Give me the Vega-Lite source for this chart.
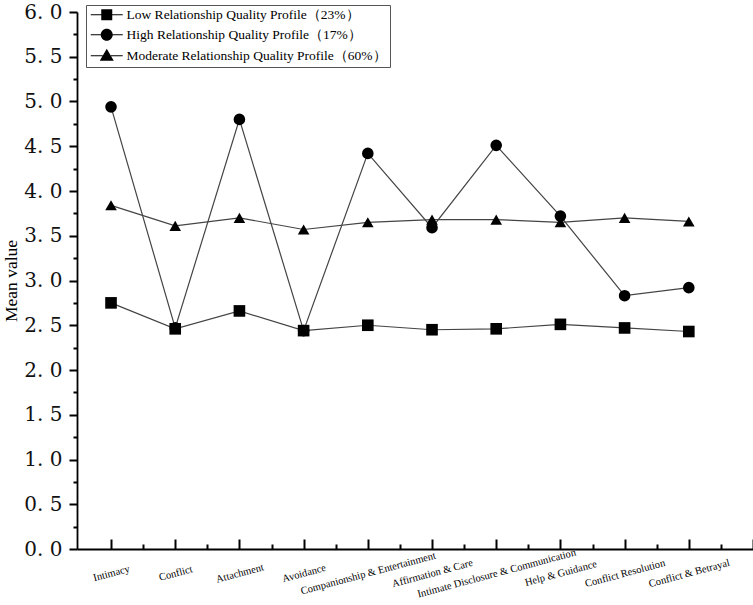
{
  "$schema": "https://vega.github.io/schema/vega-lite/v6.json",
  "width": 676,
  "height": 537,
  "autosize": "none",
  "padding": {"left": 77, "top": 12, "right": 0, "bottom": 56},
  "background": "white",
  "config": {"view": {"stroke": null}, "font": "Liberation Serif"},
  "data": {"values": [
    {"dimension": "Intimacy", "order": 1, "profile": "Low", "mean": 2.75},
    {"dimension": "Intimacy", "order": 1, "profile": "High", "mean": 4.94},
    {"dimension": "Intimacy", "order": 1, "profile": "Moderate", "mean": 3.84},
    {"dimension": "Conflict", "order": 2, "profile": "Low", "mean": 2.46},
    {"dimension": "Conflict", "order": 2, "profile": "High", "mean": 2.47},
    {"dimension": "Conflict", "order": 2, "profile": "Moderate", "mean": 3.61},
    {"dimension": "Attachment", "order": 3, "profile": "Low", "mean": 2.66},
    {"dimension": "Attachment", "order": 3, "profile": "High", "mean": 4.80},
    {"dimension": "Attachment", "order": 3, "profile": "Moderate", "mean": 3.70},
    {"dimension": "Avoidance", "order": 4, "profile": "Low", "mean": 2.44},
    {"dimension": "Avoidance", "order": 4, "profile": "High", "mean": 2.44},
    {"dimension": "Avoidance", "order": 4, "profile": "Moderate", "mean": 3.57},
    {"dimension": "Companionship & Entertainment", "order": 5, "profile": "Low", "mean": 2.50},
    {"dimension": "Companionship & Entertainment", "order": 5, "profile": "High", "mean": 4.42},
    {"dimension": "Companionship & Entertainment", "order": 5, "profile": "Moderate", "mean": 3.65},
    {"dimension": "Affirmation & Care", "order": 6, "profile": "Low", "mean": 2.45},
    {"dimension": "Affirmation & Care", "order": 6, "profile": "High", "mean": 3.59},
    {"dimension": "Affirmation & Care", "order": 6, "profile": "Moderate", "mean": 3.68},
    {"dimension": "Intimate Disclosure & Communication", "order": 7, "profile": "Low", "mean": 2.46},
    {"dimension": "Intimate Disclosure & Communication", "order": 7, "profile": "High", "mean": 4.51},
    {"dimension": "Intimate Disclosure & Communication", "order": 7, "profile": "Moderate", "mean": 3.68},
    {"dimension": "Help & Guidance", "order": 8, "profile": "Low", "mean": 2.51},
    {"dimension": "Help & Guidance", "order": 8, "profile": "High", "mean": 3.72},
    {"dimension": "Help & Guidance", "order": 8, "profile": "Moderate", "mean": 3.65},
    {"dimension": "Conflict Resolution", "order": 9, "profile": "Low", "mean": 2.47},
    {"dimension": "Conflict Resolution", "order": 9, "profile": "High", "mean": 2.83},
    {"dimension": "Conflict Resolution", "order": 9, "profile": "Moderate", "mean": 3.70},
    {"dimension": "Conflict & Betrayal", "order": 10, "profile": "Low", "mean": 2.43},
    {"dimension": "Conflict & Betrayal", "order": 10, "profile": "High", "mean": 2.92},
    {"dimension": "Conflict & Betrayal", "order": 10, "profile": "Moderate", "mean": 3.66}
  ]},
  "layer": [
    {
      "mark": {"type": "line", "color": "#444444", "strokeWidth": 1.2},
      "encoding": {
        "x": {"field": "order", "type": "quantitative",
          "scale": {"domain": [0.47, 11], "nice": false, "zero": false},
          "axis": {"orient": "bottom", "values": [1.5, 2.5, 3.5, 4.5, 5.5, 6.5, 7.5, 8.5, 9.5, 10.5],
            "labels": false, "domain": false, "grid": false, "title": null,
            "tickSize": -5, "tickWidth": 2, "tickColor": "black"}},
        "y": {"field": "mean", "type": "quantitative",
          "scale": {"domain": [0, 6], "nice": false},
          "axis": {"orient": "left", "values": [0.25, 0.75, 1.25, 1.75, 2.25, 2.75, 3.25, 3.75, 4.25, 4.75, 5.25, 5.75],
            "labels": false, "domain": false, "grid": false, "title": null,
            "tickSize": 4, "tickWidth": 2, "tickColor": "black"}},
        "detail": {"field": "profile", "type": "nominal"}
      }
    },
    {
      "mark": {"type": "point", "filled": true, "opacity": 1, "color": "black", "size": 135},
      "encoding": {
        "x": {"field": "order", "type": "quantitative",
          "scale": {"domain": [0.47, 11], "nice": false, "zero": false},
          "axis": {"orient": "bottom", "values": [1, 2, 3, 4, 5, 6, 7, 8, 9, 10, 11],
            "labelExpr": "['Intimacy','Conflict','Attachment','Avoidance','Companionship & Entertainment','Affirmation & Care','Intimate Disclosure & Communication','Help & Guidance','Conflict Resolution','Conflict & Betrayal',''][datum.value - 1]",
            "labelAngle": -15, "labelAlign": "center", "labelBaseline": "middle",
            "labelFont": "Liberation Serif", "labelFontSize": 10.5, "labelColor": "black",
            "labelPadding": 34, "labelFlush": false, "labelOverlap": false,
            "domain": true, "domainColor": "black", "domainWidth": 1.8,
            "grid": false, "title": null,
            "tickSize": -10, "tickWidth": 2, "tickColor": "black"}},
        "y": {"field": "mean", "type": "quantitative",
          "scale": {"domain": [0, 6], "nice": false},
          "axis": {"orient": "left", "values": [0, 0.5, 1, 1.5, 2, 2.5, 3, 3.5, 4, 4.5, 5, 5.5, 6],
            "labelExpr": "replace(format(datum.value, '.1f'), '.', '. ')",
            "labelFont": "DejaVu Serif", "labelFontSize": 20, "labelColor": "#111111",
            "labelPadding": 7, "labelFlush": false, "labelOverlap": false,
            "domain": true, "domainColor": "black", "domainWidth": 1.8,
            "grid": false, "title": "Mean value",
            "titleFont": "Liberation Serif", "titleFontSize": 17.5, "titleFontWeight": "normal",
            "titleColor": "black", "titlePadding": 3,
            "tickSize": 8, "tickWidth": 2, "tickColor": "black"}},
        "shape": {"field": "profile", "type": "nominal",
          "scale": {"domain": ["Low", "High", "Moderate"], "range": ["square", "circle", "triangle-up"]},
          "legend": null}
      }
    },
    {
      "transform": [{"filter": "false"}],
      "mark": {"type": "point", "filled": true, "opacity": 1, "color": "black", "size": 100},
      "encoding": {
        "shape": {"field": "profile", "type": "nominal",
          "scale": {"domain": ["Low", "High", "Moderate"],
            "range": [
              "M-3.2,-0.1H-1.1V0.1H-3.2ZM1.1,-0.1H3.2V0.1H1.1ZM-1.1,-1.1H1.1V1.1H-1.1Z",
              "M-3.2,-0.1H-1.2V0.1H-3.2ZM1.2,-0.1H3.2V0.1H1.2ZM1.2,0A1.2,1.2 0 1 1 -1.2,0A1.2,1.2 0 1 1 1.2,0Z",
              "M-3.2,-0.1H-0.82V0.1H-3.2ZM0.82,-0.1H3.2V0.1H0.82ZM0,-1.4L1.4,1H-1.4Z"]},
          "legend": {
            "orient": "none", "legendX": 9, "legendY": -7, "title": null,
            "labelExpr": "datum.value === 'Low' ? 'Low Relationship Quality Profile（23%）' : datum.value === 'High' ? 'High Relationship Quality Profile（17%）' : 'Moderate Relationship Quality Profile（60%）'",
            "labelFont": "Liberation Serif", "labelFontSize": 13.5, "labelColor": "black",
            "labelOffset": 13, "labelLimit": 400, "symbolOffset": 11,
            "symbolFillColor": "black", "symbolOpacity": 1,
            "strokeColor": "#555555", "fillColor": "white", "padding": 3,
            "rowPadding": 1, "symbolSize": 100
          }}
      }
    }
  ],
  "resolve": {"axis": {"x": "independent", "y": "independent"}, "scale": {"shape": "independent"}}
}
